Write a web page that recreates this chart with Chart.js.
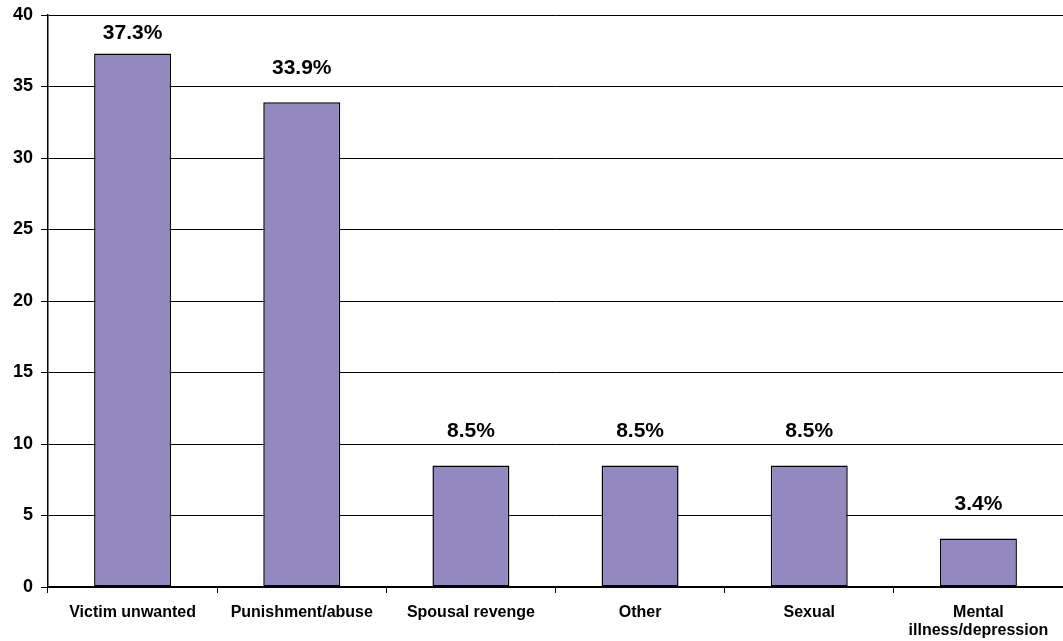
<!DOCTYPE html>
<html>
<head>
<meta charset="utf-8">
<script src="https://cdn.jsdelivr.net/npm/chart.js@4/dist/chart.umd.min.js"></script>
<style>
  html, body { margin: 0; padding: 0; background: #fff; }
  #wrap { width: 1063px; height: 641px; }
</style>
</head>
<body>
<div id="wrap"><canvas id="motiveChart" width="1063" height="641"></canvas></div>
<script>
// Motives — share of cases (%)
const categories = ['Victim unwanted', 'Punishment/abuse', 'Spousal revenge', 'Other', 'Sexual', ['Mental', 'illness/depression']];
const shares = [37.3, 33.9, 8.5, 8.5, 8.5, 3.4];
const yTicks = [0, 5, 10, 15, 20, 25, 30, 35, 40];

const FONT = '"Liberation Sans", Arial, sans-serif';

// value labels above each bar, kept clear of the top edge
const barLabels = {
  id: 'barLabels',
  afterDatasetsDraw(chart) {
    const { ctx } = chart;
    const meta = chart.getDatasetMeta(0);
    ctx.save();
    ctx.font = `bold 21px ${FONT}`;
    ctx.fillStyle = '#000';
    ctx.textAlign = 'center';
    ctx.textBaseline = 'middle';
    meta.data.forEach((bar, i) => {
      const y = Math.max(bar.y - 34, chart.chartArea.top + 18);
      ctx.fillText(shares[i].toFixed(1) + '%', bar.x, y);
    });
    ctx.restore();
  }
};

function renderMotiveChart() {
  const ctx = document.getElementById('motiveChart');
  new Chart(ctx, {
    type: 'bar',
    data: {
      labels: categories,
      datasets: [{
        data: shares,
        backgroundColor: '#9488c0',
        borderColor: '#000',
        borderWidth: 1.5,
        borderSkipped: false,
        barPercentage: 0.455,
        categoryPercentage: 1,
      }],
    },
    options: {
      responsive: false,
      animation: false,
      layout: { padding: { top: 15, right: 0, bottom: 0, left: 0 } },
      plugins: {
        legend: { display: false },
        tooltip: { enabled: false },
      },
      scales: {
        x: {
          offset: true,
          afterFit: s => { s.height = 54; },
          grid: { offset: true, drawOnChartArea: false, drawTicks: true, tickLength: 6, color: '#000' },
          border: { color: '#000', width: 1.5 },
          ticks: { color: '#000', font: { family: FONT, size: 16, weight: 'bold', lineHeight: 1.15 }, padding: 10, maxRotation: 0, autoSkip: false },
        },
        y: {
          min: 0,
          max: 40,
          afterBuildTicks: s => { s.ticks = yTicks.map(v => ({ value: v })); },
          afterFit: s => { s.width = 48; s.paddingTop = 0; s.paddingBottom = 0; },
          grid: { color: '#000', lineWidth: 1, tickLength: 7 },
          border: { color: '#000', width: 1.5 },
          ticks: { color: '#000', font: { family: FONT, size: 18, weight: 'bold' }, padding: 8 },
        },
      },
    },
    plugins: [barLabels],
  });
}

renderMotiveChart();
</script>
</body>
</html>
